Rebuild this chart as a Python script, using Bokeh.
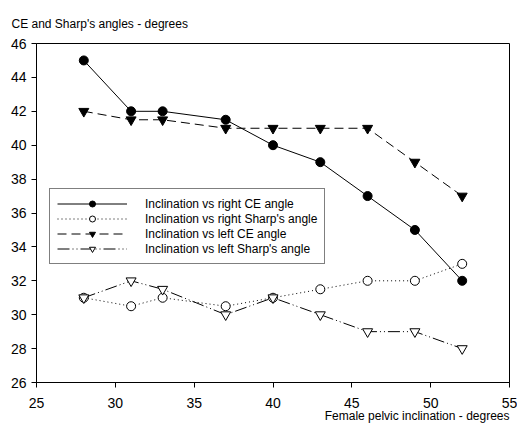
from bokeh.plotting import figure
from bokeh.models import Title, Legend, FixedTicker
from bokeh.embed import file_html
from bokeh.resources import INLINE

inclination = [28, 31, 33, 37, 40, 43, 46, 49, 52]
right_ce = [45, 42, 42, 41.5, 40, 39, 37, 35, 32]
right_sharp = [31, 30.5, 31, 30.5, 31, 31.5, 32, 32, 33]
left_ce = [42, 41.5, 41.5, 41, 41, 41, 41, 39, 37]
left_sharp = [31, 32, 31.5, 30, 31, 30, 29, 29, 28]
x_ticks = [25, 30, 35, 40, 45, 50, 55]
y_ticks = [26, 28, 30, 32, 34, 36, 38, 40, 42, 44, 46]

FONT = "Liberation Sans"

p = figure(width=517, height=431, output_backend="svg", toolbar_location=None,
           x_range=(25, 55), y_range=(26, 46),
           min_border_left=36, min_border_right=8, min_border_top=43, min_border_bottom=49)
p.title.text = "CE and Sharp's angles - degrees"
p.title.align = "left"
p.title.text_font = FONT
p.title.text_font_size = "12px"
p.title.text_font_style = "normal"
p.title.text_color = "black"
p.title.offset = -25
p.title.standoff = 25

xl = Title(text="Female pelvic inclination - degrees", align="right",
           text_font=FONT, text_font_size="12px", text_font_style="normal",
           text_color="black", offset=0, standoff=-8)
p.add_layout(xl, "below")

p.grid.visible = False
p.outline_line_color = "black"
p.outline_line_width = 1
for ax in (p.xaxis[0], p.yaxis[0]):
    ax.major_label_text_font = FONT
    ax.major_label_text_font_size = "14px"
    ax.major_label_text_color = "black"
    ax.axis_line_color = "black"
    ax.major_tick_line_color = "black"
    ax.major_tick_out = 5
    ax.major_tick_in = 0
    ax.minor_tick_line_color = None
p.xaxis[0].major_label_standoff = 10
p.xaxis[0].ticker = FixedTicker(ticks=x_ticks)
p.yaxis[0].ticker = FixedTicker(ticks=y_ticks)

r1l = p.line(inclination, right_ce, line_color="black", line_width=1)
r1m = p.scatter(inclination, right_ce, marker="circle", size=9, fill_color="black", line_color="black")
r2l = p.line(inclination, right_sharp, line_color="black", line_width=1, line_dash="1 3")
r2m = p.scatter(inclination, right_sharp, marker="circle", size=9, fill_color="white", line_color="black")
r3l = p.line(inclination, left_ce, line_color="black", line_width=1, line_dash="9 5")
r3m = p.scatter(inclination, left_ce, marker="inverted_triangle", size=10, fill_color="black", line_color="black")
r4l = p.line(inclination, left_sharp, line_color="black", line_width=1, line_dash="12 3 1 3 1 3")
r4m = p.scatter(inclination, left_sharp, marker="inverted_triangle", size=10, fill_color="white", line_color="black")

legend = Legend(items=[
    ("Inclination vs right CE angle", [r1l, r1m]),
    ("Inclination vs right Sharp's angle", [r2l, r2m]),
    ("Inclination vs left CE angle", [r3l, r3m]),
    ("Inclination vs left Sharp's angle", [r4l, r4m]),
], location=(13, 118))
legend.label_text_font = FONT
legend.label_text_font_size = "12px"
legend.label_text_color = "black"
legend.glyph_width = 70
legend.glyph_height = 15
legend.label_height = 15
legend.label_standoff = 18
legend.spacing = 0
legend.padding = 7
legend.margin = 0
legend.border_line_color = "black"
legend.border_line_width = 1
legend.background_fill_alpha = 1
p.add_layout(legend, "center")

open("out.html", "w").write(file_html(p, INLINE))
